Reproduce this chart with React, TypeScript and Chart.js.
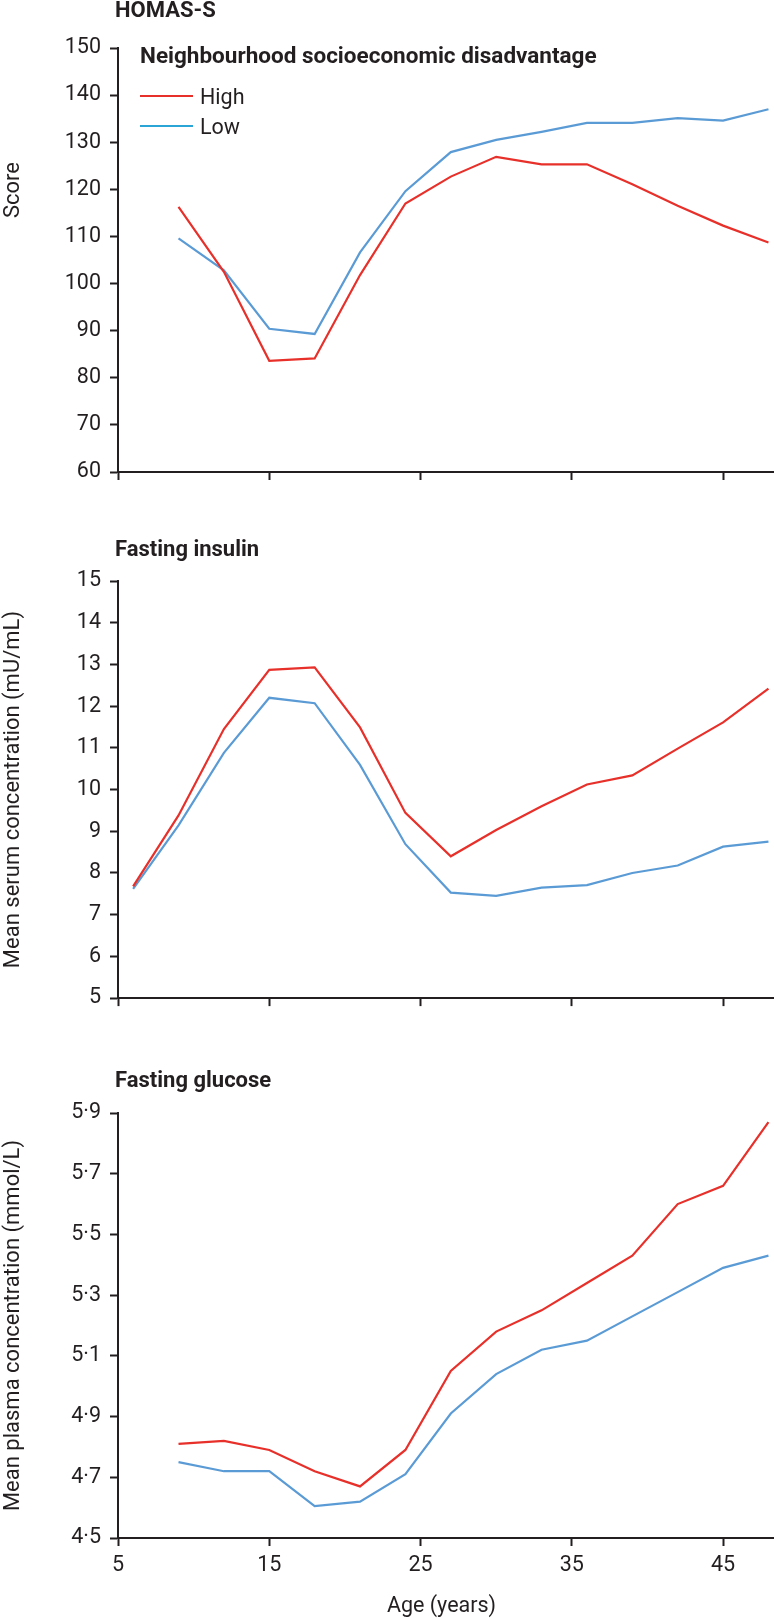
import React, { useEffect, useRef } from "react";
import { Chart, registerables } from "chart.js";

Chart.register(...registerables);

// ---------- data ----------
const ages = [9, 12, 15, 18, 21, 24, 27, 30, 33, 36, 39, 42, 45, 48];
const insulinAges = [6, 9, 12, 15, 18, 21, 24, 27, 30, 33, 36, 39, 42, 45, 48];

const homaHigh = [116.3, 102.5, 83.6, 84.1, 101.8, 117.0, 122.7, 126.9, 125.3, 125.3, 121.1, 116.5, 112.3, 108.7];
const homaLow = [109.6, 102.8, 90.4, 89.3, 106.6, 119.6, 127.9, 130.5, 132.2, 134.1, 134.1, 135.1, 134.6, 137.0];

const insulinHigh = [7.68, 9.38, 11.45, 12.87, 12.93, 11.49, 9.44, 8.4, 9.03, 9.6, 10.12, 10.34, 10.98, 11.61, 12.42];
const insulinLow = [7.62, 9.14, 10.88, 12.2, 12.07, 10.59, 8.69, 7.53, 7.45, 7.65, 7.71, 8.0, 8.18, 8.63, 8.75];

const glucoseHigh = [4.81, 4.82, 4.79, 4.72, 4.67, 4.79, 5.05, 5.18, 5.25, 5.34, 5.43, 5.6, 5.66, 5.87];
const glucoseLow = [4.75, 4.72, 4.72, 4.605, 4.62, 4.71, 4.91, 5.04, 5.12, 5.15, 5.23, 5.31, 5.39, 5.43];

const xTicks = [5, 15, 25, 35, 45];
const homaTicks = [60, 70, 80, 90, 100, 110, 120, 130, 140, 150];
const insulinTicks = [5, 6, 7, 8, 9, 10, 11, 12, 13, 14, 15];
const glucoseTicks = [4.5, 4.7, 4.9, 5.1, 5.3, 5.5, 5.7, 5.9];

const seriesNames = ["High", "Low"];
const legendTitle = "Neighbourhood socioeconomic disadvantage";
const panelTitles = ["HOMAS-S", "Fasting insulin", "Fasting glucose"];
const yTitles = ["Score", "Mean serum concentration (mU/mL)", "Mean plasma concentration (mmol/L)"];
const xTitle = "Age (years)";

// ---------- style ----------
const INK = "#231f20";
const RED = "#e8302a";
const BLUE = "#5b9bd5";
const LEGEND_BLUE = "#2ba4d6";
const FONT = "Roboto, 'Noto Sans', sans-serif";
const X_MIN = 5;
const X_MAX = 48.3;
const W = 774;

type PanelDef = {
  key: string;
  top: number;
  height: number;
  title: string;
  yTitle: string;
  xs: number[];
  high: number[];
  low: number[];
  yTicks: number[];
  fmt: (v: number) => string;
  padTop: number;
  padBottom: number;
  xHeight: number;
  showXLabels: boolean;
  titleDy: number;
  yTitleY: number | null;
  legend: boolean;
};

const panels: PanelDef[] = [
  {
    key: "homa",
    top: 0,
    height: 500,
    title: panelTitles[0],
    yTitle: yTitles[0],
    xs: ages,
    high: homaHigh,
    low: homaLow,
    yTicks: homaTicks,
    fmt: (v) => String(v),
    padTop: 48,
    padBottom: 18,
    xHeight: 10,
    showXLabels: false,
    titleDy: -31,
    yTitleY: 190,
    legend: true,
  },
  {
    key: "insulin",
    top: 500,
    height: 520,
    title: panelTitles[1],
    yTitle: yTitles[1],
    xs: insulinAges,
    high: insulinHigh,
    low: insulinLow,
    yTicks: insulinTicks,
    fmt: (v) => String(v),
    padTop: 81,
    padBottom: 4,
    xHeight: 10,
    showXLabels: false,
    titleDy: -25,
    yTitleY: null,
    legend: false,
  },
  {
    key: "glucose",
    top: 1020,
    height: 599,
    title: panelTitles[2],
    yTitle: yTitles[2],
    xs: ages,
    high: glucoseHigh,
    low: glucoseLow,
    yTicks: glucoseTicks,
    fmt: (v) => v.toFixed(1).replace(".", "\u00B7"),
    padTop: 93,
    padBottom: 0,
    xHeight: 81,
    showXLabels: true,
    titleDy: -26,
    yTitleY: null,
    legend: false,
  },
];

function makePlugin(p: PanelDef) {
  return {
    id: "annot_" + p.key,
    afterDraw(chart: any) {
      const ctx = chart.ctx as CanvasRenderingContext2D;
      const a = chart.chartArea;
      ctx.save();
      ctx.fillStyle = INK;
      ctx.textAlign = "left";
      ctx.textBaseline = "alphabetic";
      ctx.font = `bold 22px ${FONT}`;
      ctx.fillText(p.title, a.left - 3, a.top + p.titleDy);

      if (p.legend) {
        ctx.font = `bold 22.5px ${FONT}`;
        ctx.fillText(legendTitle, a.left + 22, a.top + 15);
        ctx.font = `21.5px ${FONT}`;
        const cols = [RED, LEGEND_BLUE];
        seriesNames.forEach((name, i) => {
          const cy = a.top + 48 + i * 30;
          ctx.strokeStyle = cols[i];
          ctx.lineWidth = 2.2;
          ctx.beginPath();
          ctx.moveTo(a.left + 22, cy);
          ctx.lineTo(a.left + 75, cy);
          ctx.stroke();
          ctx.fillText(name, a.left + 82, cy + 7.5);
        });
      }

      // y title
      ctx.font = `22px ${FONT}`;
      const yc = p.yTitleY != null ? p.yTitleY : (a.top + a.bottom) / 2;
      ctx.save();
      ctx.translate(13, yc);
      ctx.rotate(-Math.PI / 2);
      ctx.textAlign = "center";
      ctx.textBaseline = "middle";
      ctx.fillText(p.yTitle, 0, 0);
      ctx.restore();

      if (p.showXLabels) {
        ctx.font = `21.5px ${FONT}`;
        ctx.textAlign = "center";
        ctx.textBaseline = "alphabetic";
        ctx.fillText(xTitle, (a.left + a.right) / 2 - 4, a.bottom + 74);
      }
      ctx.restore();
    },
  };
}

function Panel({ p }: { p: PanelDef }) {
  const ref = useRef<HTMLCanvasElement | null>(null);
  useEffect(() => {
    if (!ref.current) return;
    const tickFont = { family: FONT, size: 21.5 };
    const chart = new Chart(ref.current, {
      type: "line",
      data: {
        datasets: [
          {
            label: seriesNames[0],
            data: p.xs.map((x, i) => ({ x, y: p.high[i] })),
            borderColor: RED,
            backgroundColor: RED,
            borderWidth: 2.2,
            pointRadius: 0,
            tension: 0,
          },
          {
            label: seriesNames[1],
            data: p.xs.map((x, i) => ({ x, y: p.low[i] })),
            borderColor: BLUE,
            backgroundColor: BLUE,
            borderWidth: 2.2,
            pointRadius: 0,
            tension: 0,
          },
        ],
      },
      options: {
        responsive: false,
        animation: false,
        devicePixelRatio: 1,
        layout: { padding: { top: p.padTop, bottom: p.padBottom, left: 0, right: 1 } },
        plugins: { legend: { display: false }, title: { display: false }, tooltip: { enabled: false } },
        scales: {
          x: {
            type: "linear",
            min: X_MIN,
            max: X_MAX,
            afterBuildTicks: (s: any) => {
              s.ticks = xTicks.map((v) => ({ value: v }));
            },
            afterFit: (s: any) => {
              s.height = p.xHeight;
            },
            border: { display: true, color: INK, width: 2 },
            grid: {
              display: true,
              drawOnChartArea: false,
              drawTicks: true,
              tickLength: 8,
              tickWidth: 2,
              tickColor: INK,
              color: INK,
            },
            ticks: {
              display: p.showXLabels,
              color: INK,
              font: tickFont,
              padding: 7,
              maxRotation: 0,
              autoSkip: false,
              callback: (v: any) => String(v),
            },
          },
          y: {
            type: "linear",
            min: p.yTicks[0],
            max: p.yTicks[p.yTicks.length - 1],
            afterBuildTicks: (s: any) => {
              s.ticks = p.yTicks.map((v) => ({ value: v }));
            },
            afterFit: (s: any) => {
              s.width = 118;
            },
            border: { display: true, color: INK, width: 2 },
            grid: {
              display: true,
              drawOnChartArea: false,
              drawTicks: true,
              tickLength: 8,
              tickWidth: 2,
              tickColor: INK,
              color: INK,
            },
            ticks: {
              color: INK,
              font: tickFont,
              padding: 9,
              autoSkip: false,
              callback: (v: any) => p.fmt(Number(v)),
            },
          },
        },
      },
      plugins: [makePlugin(p)],
    } as any);
    return () => chart.destroy();
  }, [p]);
  return (
    <canvas
      ref={ref}
      width={W}
      height={p.height}
      style={{ position: "absolute", left: 0, top: p.top, width: W, height: p.height, display: "block" }}
    />
  );
}

export default function App() {
  return (
    <div style={{ position: "absolute", left: 0, top: 0, width: W, height: 1619, background: "#fff" }}>
      {panels.map((p) => (
        <Panel key={p.key} p={p} />
      ))}
    </div>
  );
}
